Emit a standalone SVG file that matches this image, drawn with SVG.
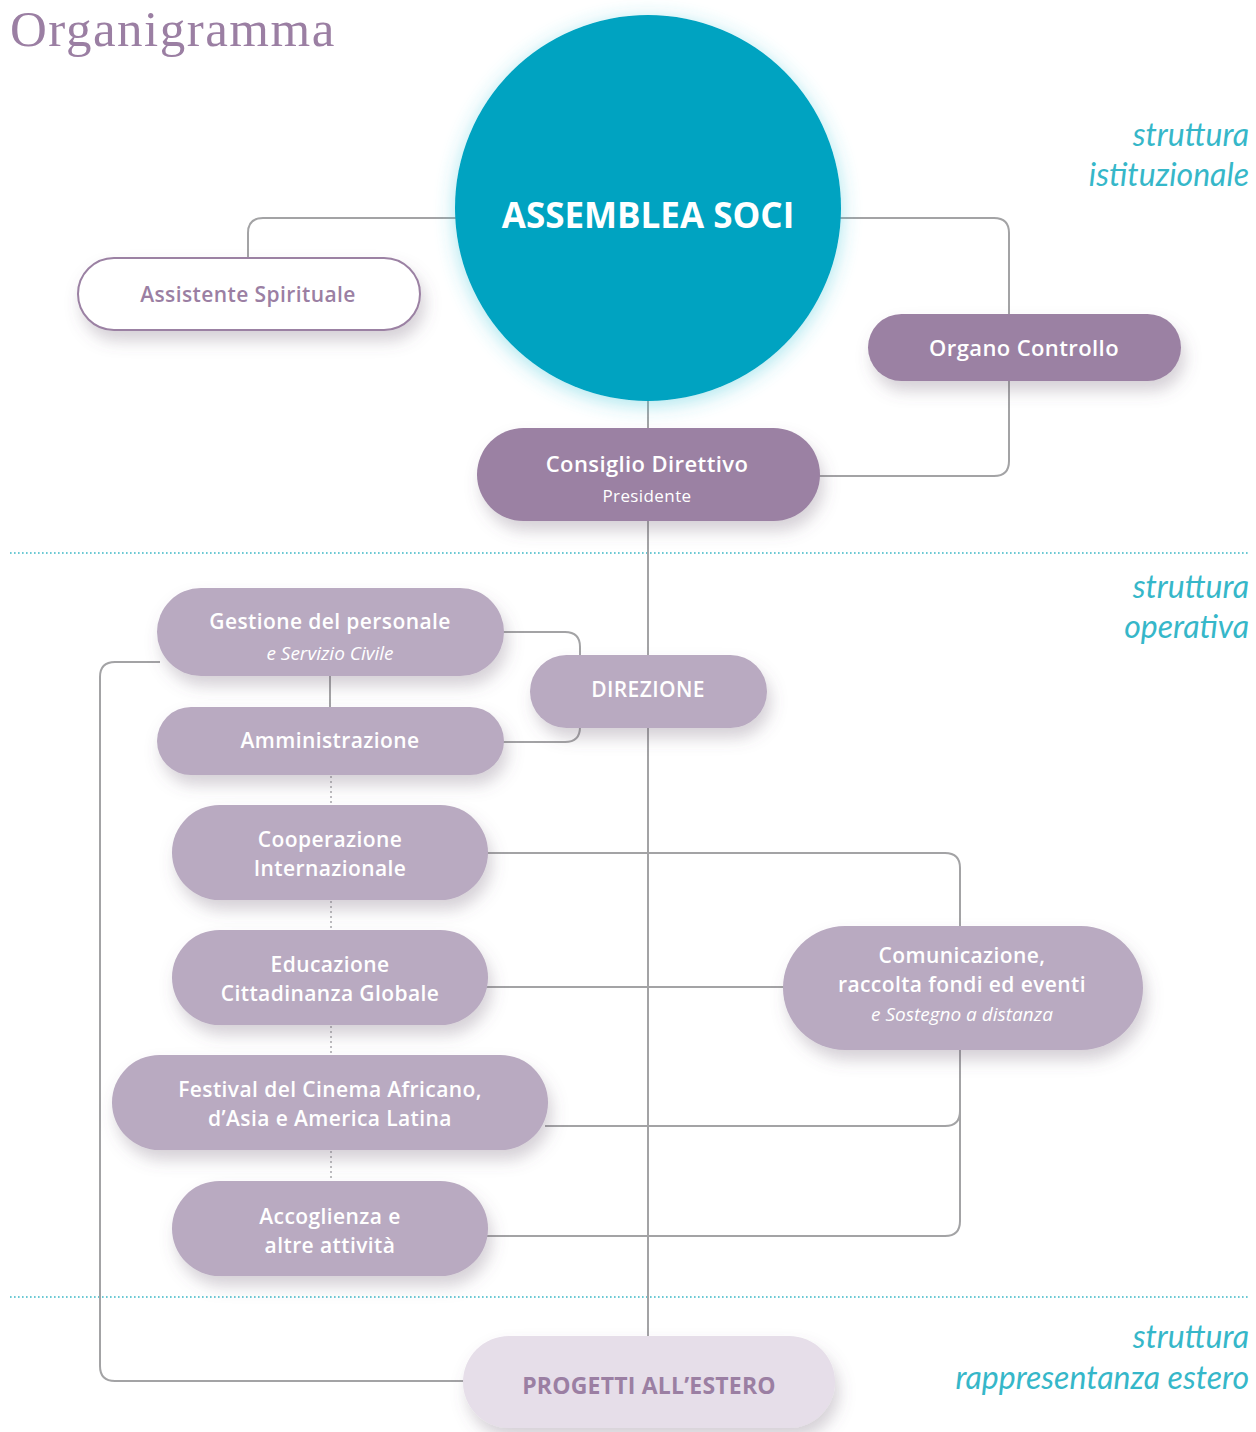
<svg xmlns="http://www.w3.org/2000/svg" width="1256" height="1432" viewBox="0 0 1256 1432">
<defs>
<filter id="sh" x="-20%" y="-30%" width="140%" height="170%">
<feDropShadow dx="4" dy="10" stdDeviation="8" flood-color="#6a5a70" flood-opacity="0.28"/>
</filter>
<filter id="glow" x="-20%" y="-20%" width="140%" height="140%">
<feDropShadow dx="0" dy="4" stdDeviation="10" flood-color="#3cc4d8" flood-opacity="0.45"/>
</filter>
<style>
.ln{fill:none;stroke:#a3a3a5;stroke-width:2}
.dl{fill:none;stroke:#a8a8ab;stroke-width:1.5;stroke-dasharray:2 3}
.sep{fill:none;stroke:#3cb8c6;stroke-width:1.6;stroke-dasharray:1.6 2.4}
.dk{fill:#9b81a3}
.lt{fill:#b9aac1}
.t{font-family:"Open Sans",Lato,sans-serif;font-weight:600;fill:#ffffff;text-anchor:middle;font-size:21px;letter-spacing:0.4px}
.it{font-family:"Open Sans",Lato,sans-serif;font-style:italic;font-weight:400;fill:#ffffff;text-anchor:middle;font-size:19px}
.lab{font-family:Lato,"Open Sans",sans-serif;font-style:italic;font-weight:400;fill:#36b7c9;font-size:32px;text-anchor:end}
</style>
</defs>
<rect width="1256" height="1432" fill="#ffffff"/>
<text x="10" y="46" font-family="Liberation Serif,serif" font-size="51" letter-spacing="1.5" fill="#9b7fa3">Organigramma</text>

<line class="sep" x1="10" y1="553" x2="1250" y2="553"/>
<line class="sep" x1="10" y1="1297" x2="1250" y2="1297"/>

<g id="labels">
<text class="lab" x="1249" y="146">struttura</text>
<text class="lab" x="1249" y="186">istituzionale</text>
<text class="lab" x="1249" y="598">struttura</text>
<text class="lab" x="1249" y="638">operativa</text>
<text class="lab" x="1249" y="1348">struttura</text>
<text class="lab" x="1249" y="1389">rappresentanza estero</text>
</g>

<g id="connectors">
<line class="ln" x1="648" y1="380" x2="648" y2="1340"/>
<path class="ln" d="M460 218 H263 Q248 218 248 233 V260"/>
<path class="ln" d="M836 218 H994 Q1009 218 1009 233 V461 Q1009 476 994 476 H815"/>
<path class="ln" d="M500 632 H565 Q580 632 580 647 V660"/>
<path class="ln" d="M500 742 H565 Q580 742 580 727 V720"/>
<line class="ln" x1="330" y1="672" x2="330" y2="710"/>
<path class="ln" d="M160 662 H115 Q100 662 100 677 V1366 Q100 1381 115 1381 H470"/>
<path class="ln" d="M485 853 H945 Q960 853 960 868 V930"/>
<line class="ln" x1="485" y1="987" x2="788" y2="987"/>
<path class="ln" d="M545 1126 H945 Q960 1126 960 1111 V1045"/>
<path class="ln" d="M485 1236 H945 Q960 1236 960 1221 V1045"/>
<line class="dl" x1="331" y1="776" x2="331" y2="805"/>
<line class="dl" x1="331" y1="901" x2="331" y2="930"/>
<line class="dl" x1="331" y1="1026" x2="331" y2="1055"/>
<line class="dl" x1="331" y1="1151" x2="331" y2="1181"/>
</g>

<g id="assemblea">
<circle cx="648" cy="208" r="193" fill="#00a3c1" filter="url(#glow)"/>
<text class="t" x="648" y="228" style="font-weight:700;font-size:35px;letter-spacing:0">ASSEMBLEA SOCI</text>
</g>

<g id="assistente">
<rect x="78" y="258" width="342" height="72" rx="36" fill="#ffffff" stroke="#9b81a3" stroke-width="2" filter="url(#sh)"/>
<text class="t" x="248" y="302" style="fill:#9b7fa3">Assistente Spirituale</text>
</g>

<g id="organo">
<rect class="dk" x="868" y="314" width="313" height="67" rx="33.5" filter="url(#sh)"/>
<text class="t" x="1024" y="356" style="font-size:22px">Organo Controllo</text>
</g>

<g id="consiglio">
<rect class="dk" x="477" y="428" width="343" height="93" rx="46.5" filter="url(#sh)"/>
<text class="t" x="647" y="472" style="font-size:22px">Consiglio Direttivo</text>
<text class="t" x="647" y="502" style="font-size:17px;font-weight:400">Presidente</text>
</g>

<g id="gestione">
<rect class="lt" x="157" y="588" width="347" height="88" rx="44" filter="url(#sh)"/>
<text class="t" x="330" y="629">Gestione del personale</text>
<text class="it" x="330" y="660">e Servizio Civile</text>
</g>

<g id="amministrazione">
<rect class="lt" x="157" y="707" width="347" height="68" rx="34" filter="url(#sh)"/>
<text class="t" x="330" y="748">Amministrazione</text>
</g>

<g id="direzione">
<rect class="lt" x="530" y="655" width="237" height="73" rx="36.5" filter="url(#sh)"/>
<text class="t" x="648" y="697">DIREZIONE</text>
</g>

<g id="cooperazione">
<rect class="lt" x="172" y="805" width="316" height="95" rx="47.5" filter="url(#sh)"/>
<text class="t" x="330" y="846.5">Cooperazione</text>
<text class="t" x="330" y="875.5">Internazionale</text>
</g>

<g id="educazione">
<rect class="lt" x="172" y="930" width="316" height="95" rx="47.5" filter="url(#sh)"/>
<text class="t" x="330" y="971.5">Educazione</text>
<text class="t" x="330" y="1000.5">Cittadinanza Globale</text>
</g>

<g id="festival">
<rect class="lt" x="112" y="1055" width="436" height="95" rx="47.5" filter="url(#sh)"/>
<text class="t" x="330" y="1096.5">Festival del Cinema Africano,</text>
<text class="t" x="330" y="1125.5">d’Asia e America Latina</text>
</g>

<g id="accoglienza">
<rect class="lt" x="172" y="1181" width="316" height="95" rx="47.5" filter="url(#sh)"/>
<text class="t" x="330" y="1223.5">Accoglienza e</text>
<text class="t" x="330" y="1252.5">altre attività</text>
</g>

<g id="comunicazione">
<rect class="lt" x="783" y="926" width="360" height="124" rx="62" filter="url(#sh)"/>
<text class="t" x="962" y="963">Comunicazione,</text>
<text class="t" x="962" y="992">raccolta fondi ed eventi</text>
<text class="it" x="962" y="1021">e Sostegno a distanza</text>
</g>

<g id="progetti">
<rect x="463" y="1336" width="372" height="92" rx="46" fill="#e6dee9" filter="url(#sh)"/>
<text class="t" x="649" y="1394" style="fill:#9b7fa3;font-size:23px;font-weight:700;letter-spacing:0.2px">PROGETTI ALL’ESTERO</text>
</g>
</svg>
